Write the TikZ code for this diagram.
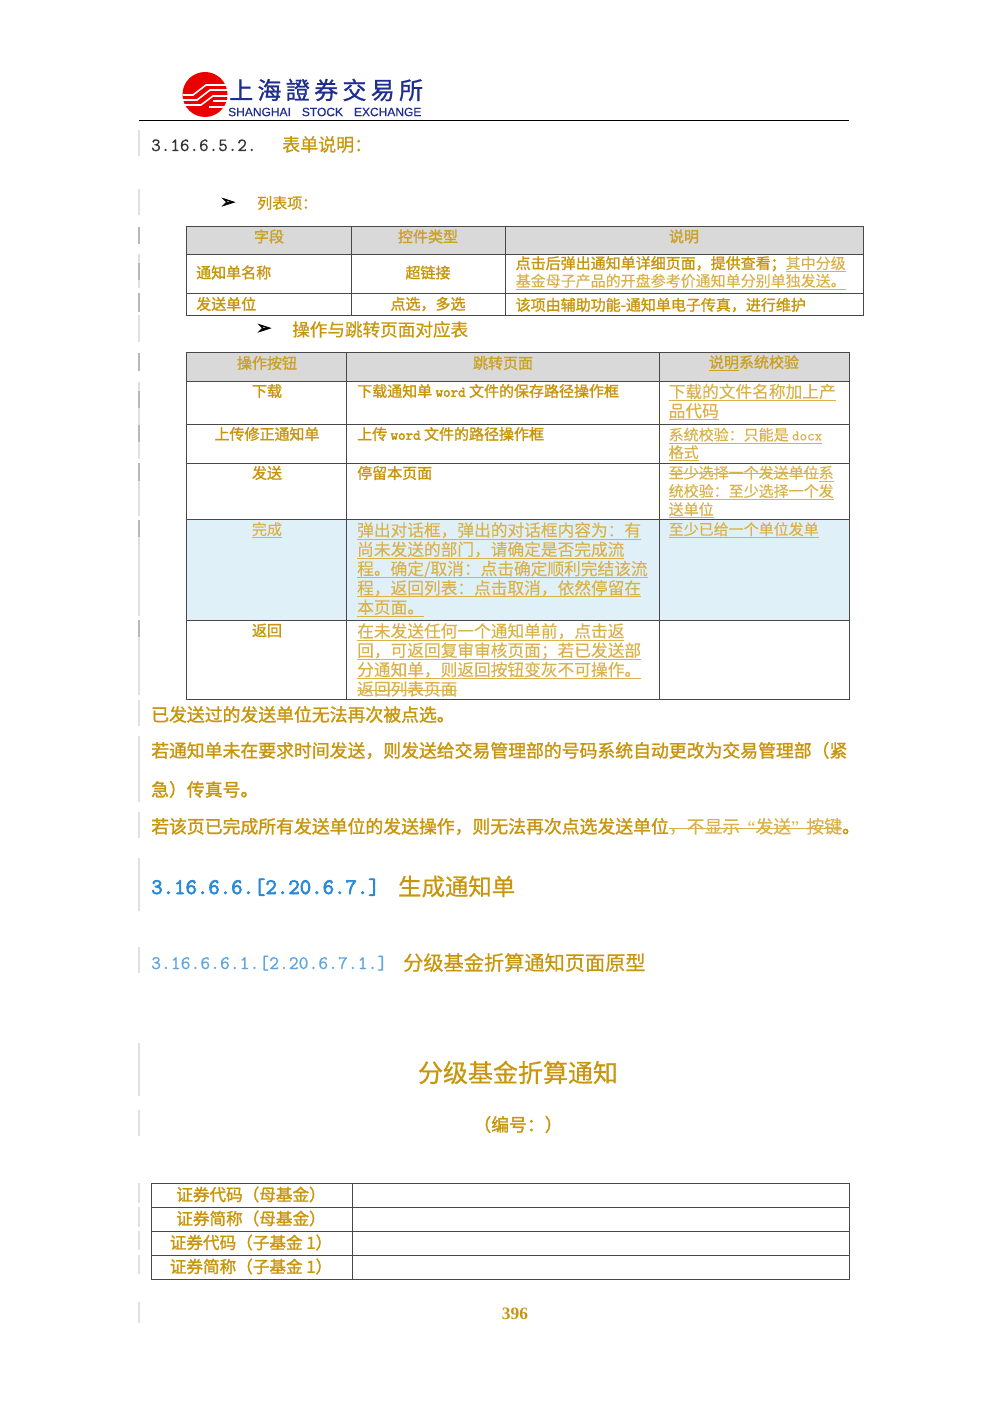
\documentclass[tikz,border=0pt]{standalone}
\usepackage{fontspec}
\usepackage{xcolor}
\setmainfont{Noto Sans CJK SC}[FakeBold=0.15]
\newfontfamily\goldstrong[FakeBold=1.5]{Noto Sans CJK SC}
\newfontfamily\goldtitle[FakeBold=0.6]{Noto Sans CJK SC}
\newfontfamily\logofont[LetterSpace=18,FakeBold=0.9]{Noto Sans CJK TC}
\newfontfamily\logolatin[FakeBold=0.5]{Liberation Sans}
\newfontfamily\arrowfont[FakeBold=3]{DejaVu Sans}
\newfontfamily\pagefont{Liberation Serif}
\newfontfamily\numfont[FakeBold=0.6]{Latin Modern Mono}
\newfontfamily\numbold[FakeBold=3]{Latin Modern Mono}
\definecolor{gold}{HTML}{C8960C}
\definecolor{goldhead}{HTML}{CBA128}
\definecolor{goldlight}{HTML}{DAB24A}
\definecolor{blueh}{HTML}{2B8AD6}
\definecolor{blues}{HTML}{5BA6E0}
\definecolor{navy}{HTML}{1F2D8F}
\definecolor{cellblue}{HTML}{E0F0F8}
\definecolor{headgray}{HTML}{D9D9D9}
\definecolor{gridgray}{HTML}{484848}
\newcommand{\ttw}[1]{{\fontsize{14.6}{19}\numbold #1}}
\newcommand{\ulin}[1]{\setbox0=\hbox{#1}\rlap{\raisebox{-3pt}{\rule{\wd0}{0.8pt}}}\box0}
\newcommand{\strk}[1]{\setbox0=\hbox{#1}\rlap{\raisebox{4.6pt}{\rule{\wd0}{0.8pt}}}\box0}
\begin{document}
\begin{tikzpicture}[
    x=1pt, y=-1pt,
    every node/.style={inner sep=0pt, text=gold},
    bar/.style={line width=1.5pt, draw=black!12},
    bardark/.style={line width=1.5pt, draw=black!28},
    grid/.style={line width=0.9pt, draw=gridgray},
    body/.style={anchor=west, font=\goldstrong\fontsize{17.85}{22}\selectfont},
    title/.style={anchor=west, font=\goldtitle\fontsize{#1}{#1}\selectfont},
    cell/.style={anchor=west, font=\goldstrong\fontsize{15}{19}\selectfont},
    cellmid/.style={cell, anchor=center},
    head/.style={cellmid, text=goldhead},
    note/.style={anchor=north west, align=left, text=goldlight, font=\fontsize{16.7}{19.3}\selectfont},
    side/.style={note, font=\fontsize{15}{18.3}\selectfont},
    arrowmark/.style={anchor=center, text=black, font=\arrowfont\fontsize{18}{18}\selectfont}
  ]
  \useasboundingbox (0,0) rectangle (1000,1415);
  \fill[white] (0,0) rectangle (1000,1415);

  % change bars down the margin
  \foreach \a/\b in {130/156,189/215,254/288,315/342,382/420,420/459,463/516,520/616,620/695,700/726,736/802,812/838,858/911,947/973,1043/1096,1110/1136,1183/1203,1207/1227,1231/1250,1255/1274,1302/1323}
    \draw[bar] (139,\a) -- (139,\b);
  \foreach \a/\b in {227/244,263/280,293/312,353/371,391/408,425/442,463/481,520/537,620/637}
    \draw[bardark] (139,\a) -- (139,\b);

  % logo
  \fill[red!92!black] (205,94.5) circle (22.5);
  \draw[white, line width=1.6pt]
    (183,95) -- (193,95) -- (206,85) -- (228,85)
    (183,100) -- (197,100) -- (210,90) -- (228,90)
    (184,105) -- (201,105) -- (213,96) -- (228,96)
    (213,101) -- (228,101)
    (209,107) -- (228,107);
  \node[anchor=west, text=navy, font=\logofont\fontsize{24}{24}\selectfont] (logoname) at (229,90) {上海證券交易所};
  \node[anchor=west, text=navy, font=\logolatin\fontsize{12}{12}\selectfont] (logolatin) at (228,112) {SHANGHAI\hspace{11pt}STOCK\hspace{11pt}EXCHANGE};
  \draw[line width=1.3pt, black] (139,120.5) -- (849,120.5);

  \node[anchor=base west, text=black!80, font=\fontsize{18.6}{20}\numfont] (num5) at (151,151) {3.16.6.5.2.};
  \node[title=18] (title5) at (282,144.5) {表单说明：};
  \node[arrowmark] (mark1) at (228,203) {➢};
  \node[title=15] (list1) at (257,203) {列表项：};

  % first table
  \fill[headgray] (186,226) rectangle (863,254);
  \draw[grid] (186,226) rectangle (863,315.5);
  \foreach \y in {254,293.5} \draw[grid] (186,\y) -- (863,\y);
  \foreach \x in {351,505.5} \draw[grid] (\x,226) -- (\x,315.5);
  \node[head] (fieldhead) at (269,236.5) {字段};
  \node[head] (typehead) at (428,236.5) {控件类型};
  \node[head] (deschead) at (684,236.5) {说明};
  \node[cell] (namecell) at (196,272.5) {通知单名称};
  \node[cellmid] (linkcell) at (428,272.5) {超链接};
  \node[note, text=gold, font=\goldstrong\fontsize{15}{17.6}\selectfont] (namedesc) at (515.5,256) {点击后弹出通知单详细页面，提供查看；{\color{goldlight}\ulin{\rmfamily 其中分级}}\\{\color{goldlight}\ulin{\rmfamily 基金母子产品的开盘参考价通知单分别单独发送。}}};
  \node[cell] (sendcell) at (196,304) {发送单位};
  \node[cellmid] (pickcell) at (428,304) {点选，多选};
  \node[cell] (senddesc) at (515.5,305) {该项由辅助功能-通知单电子传真，进行维护};

  \node[arrowmark] (mark2) at (264,329) {➢};
  \node[title=17.6] (list2) at (292,329.5) {操作与跳转页面对应表};

  % second table
  \fill[headgray] (186,352) rectangle (849,381);
  \fill[cellblue] (186,519) rectangle (849,620);
  \draw[grid] (186,352) rectangle (849,699);
  \foreach \y in {381,424,463,519,620} \draw[grid] (186,\y) -- (849,\y);
  \foreach \x in {346,659} \draw[grid] (\x,352) -- (\x,699);
  \node[head] (opshead) at (267,363) {操作按钮};
  \node[head] (pagehead) at (503,363) {跳转页面};
  \node[head] (checkhead) at (754,363) {\ulin{说明}系统校验};

  \node[cellmid] (dlop) at (267,391) {下载};
  \node[cell] (dlpage) at (357,391) {下载通知单 \ttw{word} 文件的保存路径操作框};
  \node[note] (dlcheck) at (668.5,383.5) {\ulin{下载的文件名称加上产}\\\ulin{品代码}};

  \node[cellmid] (upop) at (267,434) {上传修正通知单};
  \node[cell] (uppage) at (357,434) {上传 \ttw{word} 文件的路径操作框};
  \node[side, font=\fontsize{15}{17.5}\selectfont] (upcheck) at (668.5,427.5) {\ulin{系统校验：只能是 {\fontsize{14.6}{19}\numfont docx}}\\\ulin{格式}};

  \node[cellmid] (sendop) at (267,473) {发送};
  \node[cell] (sendpage) at (357,473) {停留本页面};
  \node[side] (sendcheck) at (668.5,465.5) {\strk{至少选择一个发送单位}\ulin{系}\\\ulin{统校验：至少选择一个发}\\\ulin{送单位}};

  \node[cellmid, text=goldlight, font=\fontsize{15}{19}\selectfont] (doneop) at (267,530) {\ulin{完成}};
  \node[note] (donepage) at (357,522) {\ulin{弹出对话框，弹出的对话框内容为：有}\\\ulin{尚未发送的部门，请确定是否完成流}\\\ulin{程。确定/取消：点击确定顺利完结该流}\\\ulin{程，返回列表：点击取消，依然停留在}\\\ulin{本页面。}};
  \node[side] (donecheck) at (668.5,522) {\ulin{至少已给一个单位发单}};

  \node[cellmid] (backop) at (267,630.5) {返回};
  \node[note] (backpage) at (357,623) {\ulin{在未发送任何一个通知单前，点击返}\\\ulin{回，可返回复审审核页面；若已发送部}\\\ulin{分通知单，则返回按钮变灰不可操作。}\\\strk{返回列表页面}};

  % paragraphs under the table
  \node[body] (para1) at (151,714.5) {已发送过的发送单位无法再次被点选。};
  \node[body] (para2) at (151,750.5) {若通知单未在要求时间发送，则发送给交易管理部的号码系统自动更改为交易管理部（紧};
  \node[body] (para3) at (151,789.5) {急）传真号。};
  \node[body] (para4) at (151,826.5) {若该页已完成所有发送单位的发送操作，则无法再次点选发送单位{\color{goldlight}\strk{\rmfamily ，不显示\hspace{7.3pt}{\pagefont “}发送{\pagefont ”}\hspace{7.3pt}按键}}。};

  % headings
  \node[anchor=base west, text=blueh, font=\fontsize{22.2}{24}\numbold] (num6) at (151,894) {3.16.6.6.[2.20.6.7.]};
  \node[title=23.4] (title6) at (398,886.5) {生成通知单};
  \node[anchor=base west, text=blues, font=\fontsize{19.1}{22}\numfont] (num7) at (151,969) {3.16.6.6.1.[2.20.6.7.1.]};
  \node[title=20.2] (title7) at (403,962.5) {分级基金折算通知页面原型};
  \node[title=25, anchor=center] (title8) at (518,1072.5) {分级基金折算通知};
  \node[body, anchor=center] (numbering) at (518,1124.5) {（编号：）};

  % third table
  \draw[grid] (151,1183) rectangle (849,1279);
  \foreach \y in {1207,1231,1255} \draw[grid] (151,\y) -- (849,\y);
  \draw[grid] (352,1183) -- (352,1279);
  \foreach \y/\n/\t in {1194.5/rowa/证券代码（母基金）,1218.5/rowb/证券简称（母基金）,1242.5/rowc/证券代码（子基金 1）,1266.5/rowd/证券简称（子基金 1）}
    \node[cellmid, font=\goldstrong\fontsize{16.6}{20}\selectfont] (\n) at (251,\y) {\t};

  \node[anchor=center, font=\pagefont\bfseries\fontsize{17.4}{20}\selectfont] (pagenum) at (515,1313.5) {396};
\end{tikzpicture}
\end{document}
